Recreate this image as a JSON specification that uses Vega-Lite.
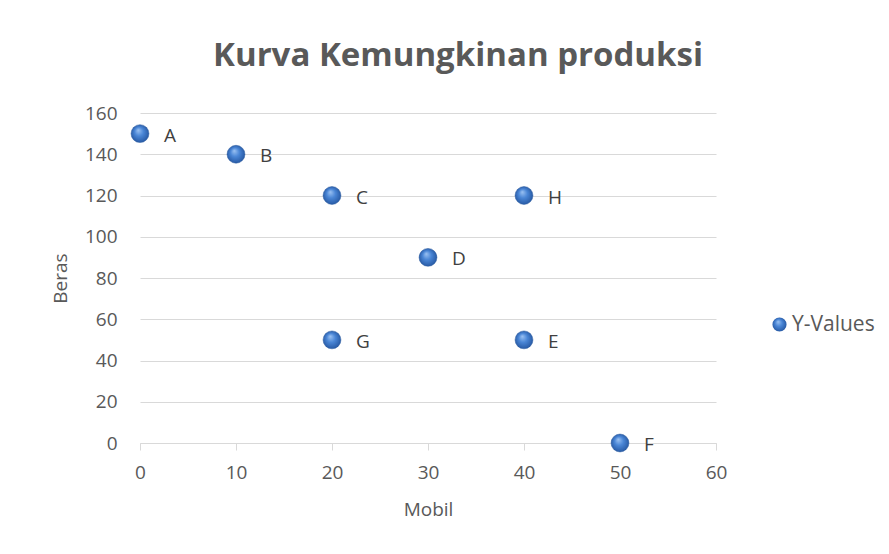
{
  "$schema": "https://vega.github.io/schema/vega-lite/v6.json",
  "width": 576,
  "height": 330,
  "autosize": "none",
  "padding": {"left": 140, "top": 113, "right": 173, "bottom": 111},
  "background": "white",
  "title": {
    "text": "Kurva Kemungkinan produksi",
    "font": "Open Sans",
    "fontSize": 33,
    "fontWeight": "bold",
    "color": "#595959",
    "anchor": "middle",
    "dx": 30,
    "offset": 31
  },
  "data": {
    "values": [
      {"label": "A", "Mobil": 0, "Beras": 150, "series": "Y-Values"},
      {"label": "B", "Mobil": 10, "Beras": 140, "series": "Y-Values"},
      {"label": "C", "Mobil": 20, "Beras": 120, "series": "Y-Values"},
      {"label": "D", "Mobil": 30, "Beras": 90, "series": "Y-Values"},
      {"label": "E", "Mobil": 40, "Beras": 50, "series": "Y-Values"},
      {"label": "F", "Mobil": 50, "Beras": 0, "series": "Y-Values"},
      {"label": "G", "Mobil": 20, "Beras": 50, "series": "Y-Values"},
      {"label": "H", "Mobil": 40, "Beras": 120, "series": "Y-Values"}
    ]
  },
  "encoding": {
    "x": {
      "field": "Mobil",
      "type": "quantitative",
      "scale": {"domain": [0, 60], "nice": false},
      "axis": {
        "title": "Mobil",
        "values": [0, 10, 20, 30, 40, 50, 60],
        "grid": false,
        "domainColor": "#d9d9d9",
        "tickColor": "#d9d9d9",
        "tickSize": 7,
        "labelFont": "Open Sans",
        "labelFontSize": 19,
        "labelColor": "#595959",
        "labelPadding": 13,
        "labelFlush": false,
        "labelBound": false,
        "labelOverlap": false,
        "titleFont": "Open Sans",
        "titleFontSize": 19,
        "titleFontWeight": "normal",
        "titleColor": "#595959",
        "titlePadding": 18
      }
    },
    "y": {
      "field": "Beras",
      "type": "quantitative",
      "scale": {"domain": [0, 160], "nice": false},
      "axis": {
        "title": "Beras",
        "values": [0, 20, 40, 60, 80, 100, 120, 140, 160],
        "grid": true,
        "gridColor": "#d9d9d9",
        "domain": false,
        "ticks": false,
        "labelFont": "Open Sans",
        "labelFontSize": 19,
        "labelColor": "#595959",
        "labelPadding": 23,
        "labelOverlap": false,
        "titleFont": "Open Sans",
        "titleFontSize": 19,
        "titleFontWeight": "normal",
        "titleColor": "#595959",
        "titlePadding": 14
      }
    }
  },
  "layer": [
    {
      "mark": {
        "type": "point",
        "filled": true,
        "size": 320,
        "opacity": 1,
        "fill": {
          "gradient": "radial",
          "x1": 0.4, "y1": 0.3, "r1": 0,
          "x2": 0.5, "y2": 0.5, "r2": 0.55,
          "stops": [
            {"offset": 0, "color": "#9cc2f2"},
            {"offset": 0.45, "color": "#4a86d6"},
            {"offset": 1, "color": "#23549e"}
          ]
        },
        "stroke": "#2a5a9e",
        "strokeWidth": 0.5
      },
      "encoding": {
        "shape": {
          "field": "series",
          "type": "nominal",
          "scale": {"range": ["circle"]},
          "legend": {
            "title": null,
            "orient": "none",
            "legendX": 629,
            "legendY": 201,
            "symbolSize": 200,
            "symbolFillColor": "#3f78c8",
            "symbolStrokeColor": "#2a5a9e",
            "symbolStrokeWidth": 0.5,
            "labelFont": "Open Sans",
            "labelFontSize": 21,
            "labelColor": "#595959",
            "labelOffset": 2
          }
        }
      }
    },
    {
      "mark": {
        "type": "text",
        "align": "left",
        "baseline": "middle",
        "dx": 24,
        "dy": 2,
        "font": "Open Sans",
        "fontSize": 19,
        "color": "#404040"
      },
      "encoding": {
        "text": {"field": "label"}
      }
    }
  ],
  "config": {
    "view": {"stroke": null}
  }
}
